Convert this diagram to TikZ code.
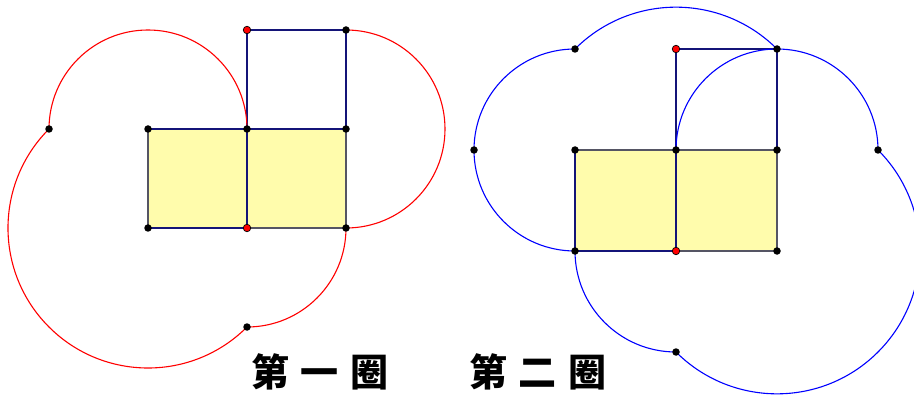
\documentclass[tikz,border=0pt]{standalone}
\usepackage{fontspec}
\newfontfamily\cjk{Noto Sans CJK SC}
\definecolor{edgenavy}{RGB}{20,20,120}
\definecolor{edgegray}{RGB}{85,85,100}
\definecolor{pale}{RGB}{255,252,172}
\definecolor{arcred}{RGB}{255,0,0}
\definecolor{arcblue}{RGB}{0,0,255}
\tikzset{
  dot/.style={circle,fill=black,inner sep=0pt,minimum size=7.5pt},
  rdot/.style={circle,fill=red,draw=black,line width=0.7pt,inner sep=0pt,minimum size=7.5pt},
  edge/.style={draw=edgenavy,line width=1.1pt},
  gedge/.style={draw=edgegray,line width=1.1pt},
  redarc/.style={draw=arcred,line width=1.1pt},
  bluearc/.style={draw=arcblue,line width=1.1pt},
  title/.style={font=\cjk\bfseries\fontsize{38}{38}\selectfont,inner sep=0pt}
}
\begin{document}
\begin{tikzpicture}[x=1pt,y=1pt]
\clip (0,0) rectangle (914,397);
% ---------- first figure ----------
\coordinate (Dc) at (148,169);
\coordinate (Ec) at (247,169);
\coordinate (Fc) at (346,169);
\coordinate (Ac) at (148,268);
\coordinate (Bc) at (247,268);
\coordinate (Cc) at (346,268);
\coordinate (Gc) at (247,367);
\coordinate (Hc) at (346,367);
\fill[pale] (Dc) rectangle (Cc);
\draw[gedge] (Dc) -- (Ac);
\draw[gedge] (Ec) -- (Fc) -- (Cc);
\draw[edge] (Dc) -- (Ec);
\draw[edge] (Ac) -- (Cc);
\draw[edge] (Bc) -- (Ec);
\draw[edge] (Bc) -- (Gc) -- (Hc) -- (Cc);
\draw[redarc] (Bc) arc[start angle=0,end angle=180,radius=99]
  arc[start angle=135,end angle=315,radius=140.007]
  arc[start angle=270,end angle=360,radius=99]
  arc[start angle=-90,end angle=90,radius=99];
\node[dot] (A) at (Ac) {};
\node[dot] (B) at (Bc) {};
\node[dot] (C) at (Cc) {};
\node[dot] (D) at (Dc) {};
\node[rdot] (E) at (Ec) {};
\node[dot] (F) at (Fc) {};
\node[rdot] (G) at (Gc) {};
\node[dot] (H) at (Hc) {};
\node[dot] (P1) at (49,268) {};
\node[dot] (P2) at (247,70) {};
% ---------- second figure ----------
\coordinate (D2c) at (575,146);
\coordinate (E2c) at (676,146);
\coordinate (F2c) at (777,146);
\coordinate (A2c) at (575,247);
\coordinate (B2c) at (676,247);
\coordinate (C2c) at (777,247);
\coordinate (G2c) at (676,348);
\coordinate (H2c) at (777,348);
\fill[pale] (D2c) rectangle (C2c);
\draw[gedge] (E2c) -- (F2c) -- (C2c);
\draw[gedge] (A2c) -- (C2c);
\draw[edge] (D2c) -- (A2c);
\draw[edge] (D2c) -- (E2c);
\draw[edge] (B2c) -- (E2c);
\draw[edge] (B2c) -- (G2c) -- (H2c) -- (C2c);
\draw[bluearc] (D2c) arc[start angle=270,end angle=90,radius=101]
  arc[start angle=135,end angle=45,radius=142.836]
  arc[start angle=90,end angle=0,radius=101]
  arc[start angle=45,end angle=-135,radius=142.836]
  arc[start angle=270,end angle=180,radius=101];
\draw[bluearc] (B2c) arc[start angle=180,end angle=90,radius=101];
\node[dot] (A2) at (A2c) {};
\node[dot] (B2) at (B2c) {};
\node[dot] (C2) at (C2c) {};
\node[dot] (D2) at (D2c) {};
\node[rdot] (E2) at (E2c) {};
\node[dot] (F2) at (F2c) {};
\node[rdot] (G2) at (G2c) {};
\node[dot] (H2) at (H2c) {};
\node[dot] (Q1) at (474,247) {};
\node[dot] (Q2) at (575,348) {};
\node[dot] (Q3) at (878,247) {};
\node[dot] (Q4) at (676,45) {};
% ---------- titles ----------
\node[title] (t1) at (320,25) {第\hspace{12pt}一\hspace{12pt}圈};
\node[title] (t2) at (538,25) {第\hspace{12pt}二\hspace{12pt}圈};
\end{tikzpicture}
\end{document}
